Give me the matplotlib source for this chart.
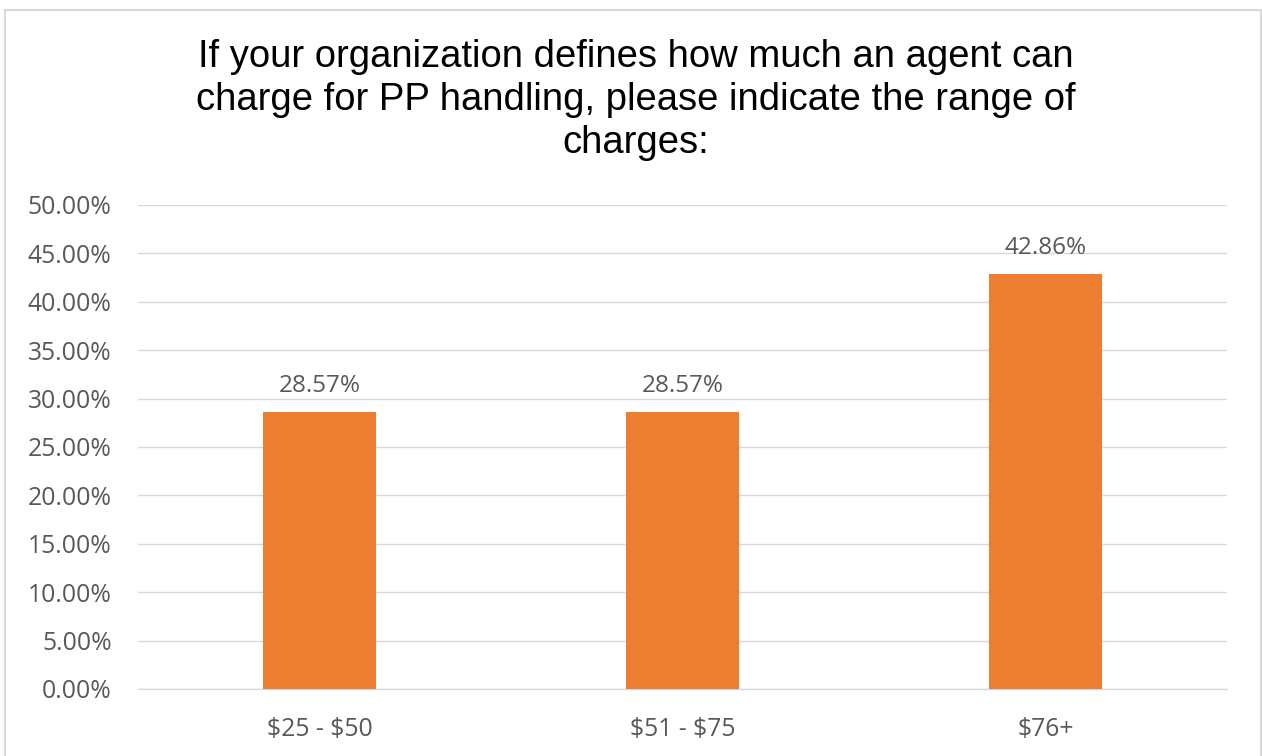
import matplotlib.pyplot as plt
from matplotlib.patches import Rectangle
from matplotlib.ticker import FuncFormatter

plt.rcParams['text.parse_math'] = False

categories = ['$25 - $50', '$51 - $75', '$76+']
shares = [28.57, 28.57, 42.86]
labels = ['28.57%', '28.57%', '42.86%']

title = ('If your organization defines how much an agent can\n'
         'charge for PP handling, please indicate the range of\n'
         'charges:')

W, H = 1262, 756
fig = plt.figure(figsize=(W / 100, H / 100), dpi=100)
ax = fig.add_axes([138 / W, 1 - 689 / H, (1227 - 138) / W, (689 - 205) / H])

x = range(len(categories))
bars = ax.bar(x, shares, width=0.313, color='#ED7D31', zorder=3)
for b, lab in zip(bars, labels):
    ax.annotate(lab, (b.get_x() + b.get_width() / 2, b.get_height()),
                xytext=(0, 10.5), textcoords='offset points', ha='center', va='bottom',
                fontsize=17.5, color='#595959', family='Open Sans')

ax.set_xlim(-0.5, 2.5)
ax.set_ylim(0, 50)
ax.set_yticks([i * 5 for i in range(11)])
ax.yaxis.set_major_formatter(FuncFormatter(lambda v, p: f'{v:.2f}%'))
ax.set_xticks(list(x))
ax.set_xticklabels(categories)
ax.grid(axis='y', color='#d9d9d9', linewidth=1.0, zorder=0)
for s in ['top', 'right', 'left']:
    ax.spines[s].set_visible(False)
ax.spines['bottom'].set_color('#d9d9d9')
ax.spines['bottom'].set_linewidth(1.0)
ax.tick_params(length=0, labelcolor='#595959', labelsize=17.8)
ax.tick_params(axis='y', pad=19)
ax.tick_params(axis='x', pad=20.5)
for t in ax.get_xticklabels() + ax.get_yticklabels():
    t.set_family('Open Sans')

fig.text(636 / W, 1 - 100 / H, title, ha='center', va='center',
         fontsize=27.5, family='Liberation Sans', color='black', linespacing=1.24)

fig.patches.append(Rectangle((5 / W, -0.05), 1256 / W, 1 - 10 / H + 0.05,
                             transform=fig.transFigure, fill=False,
                             edgecolor='#d9d9d9', linewidth=1.5))

plt.savefig('out.png', dpi=100, facecolor='white')
